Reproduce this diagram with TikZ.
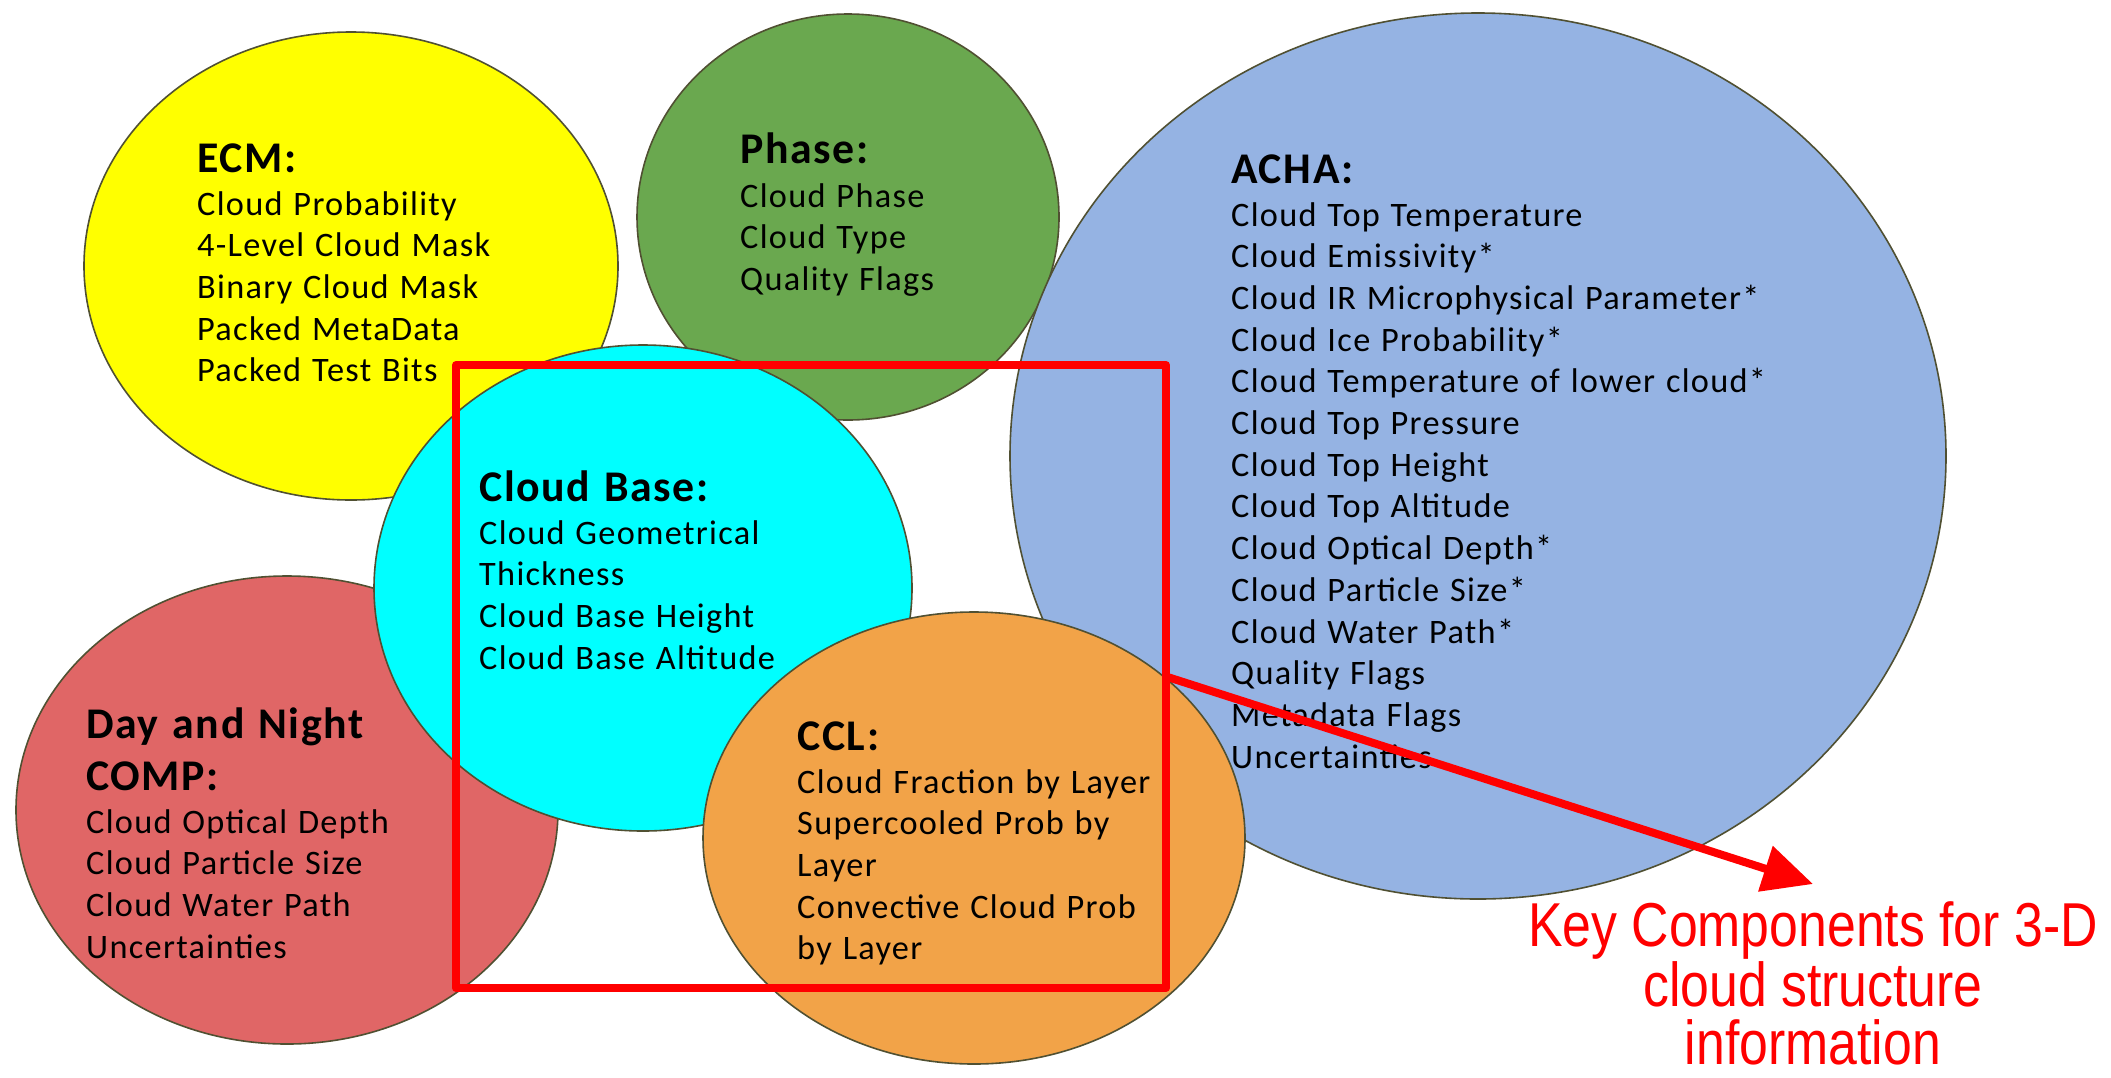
\documentclass[tikz,border=0pt]{standalone}
\usepackage{fontspec}
\setmainfont{Carlito}[LetterSpace=3.8,WordSpace=1.2]
\newfontfamily\keyfont{Liberation Sans}[FakeStretch=0.835]
\usetikzlibrary{arrows.meta,shapes.geometric}
\definecolor{edgecol}{RGB}{80,80,50}
\definecolor{ecmcol}{RGB}{255,255,0}
\definecolor{phasecol}{RGB}{106,168,79}
\definecolor{achacol}{RGB}{149,179,227}
\definecolor{basecol}{RGB}{0,255,255}
\definecolor{dncol}{RGB}{224,102,102}
\definecolor{cclcol}{RGB}{242,163,72}
\definecolor{keyred}{RGB}{255,0,0}
\begin{document}
\begin{tikzpicture}[x=1pt,y=-1pt,
  bub/.style={ellipse, draw=edgecol, line width=1.6pt, inner sep=0pt},
  head/.style={anchor=base west, inner sep=0pt, font=\fontsize{43.8}{52}\selectfont\bfseries},
  body/.style={anchor=base west, inner sep=0pt, font=\fontsize{34.3}{42}\selectfont},
  keytext/.style={anchor=base, inner sep=0pt, text=keyred, font=\fontsize{62}{61}\selectfont\keyfont},
  frame/.style={draw=keyred, line width=8pt, inner sep=0pt, outer sep=0pt, line join=round}
]
\useasboundingbox (0,0) rectangle (2111,1077);
\fill[white] (0,0) rectangle (2111,1077);

% ECM
\node[bub, fill=ecmcol, minimum width=534, minimum height=468] (ecm) at (351,266) {};
\node[head] (ecmh) at (197,172) {ECM:};
\foreach \t [count=\i from 0] in {Cloud Probability, 4-Level Cloud Mask, Binary Cloud Mask, Packed MetaData, Packed Test Bits}
  \node[body] (ecm\i) at (197,215+41.7*\i) {\t};

% Phase
\node[bub, fill=phasecol, minimum width=422, minimum height=406] (phase) at (848,217) {};
\node[head] (phaseh) at (740,163) {Phase:};
\foreach \t [count=\i from 0] in {Cloud Phase, Cloud Type, Quality Flags}
  \node[body] (phase\i) at (740,207+41.7*\i) {\t};

% ACHA
\node[bub, fill=achacol, minimum width=936, minimum height=886] (acha) at (1478,456) {};
\node[head] (achah) at (1231,183) {ACHA:};
\foreach \t [count=\i from 0] in {Cloud Top Temperature, Cloud Emissivity*, Cloud IR Microphysical Parameter*, Cloud Ice Probability*, Cloud Temperature of lower cloud*, Cloud Top Pressure, Cloud Top Height, Cloud Top Altitude, Cloud Optical Depth*, Cloud Particle Size*, Cloud Water Path*, Quality Flags, Metadata Flags, Uncertainties}
  \node[body] (acha\i) at (1231,226+41.7*\i) {\t};

% Day and Night COMP
\node[bub, fill=dncol, minimum width=542, minimum height=468] (dn) at (287,810) {};
\node[head] (dnh1) at (86,738) {Day and Night};
\node[head] (dnh2) at (86,790) {COMP:};
\foreach \t [count=\i from 0] in {Cloud Optical Depth, Cloud Particle Size, Cloud Water Path, Uncertainties}
  \node[body] (dn\i) at (86,833+41.7*\i) {\t};

% Cloud Base
\node[bub, fill=basecol, minimum width=538, minimum height=486] (base) at (643,588) {};
\node[head] (baseh) at (479,501) {Cloud Base:};
\foreach \t [count=\i from 0] in {Cloud Geometrical, Thickness, Cloud Base Height, Cloud Base Altitude}
  \node[body] (base\i) at (479,544+41.7*\i) {\t};

% CCL
\node[bub, fill=cclcol, minimum width=542, minimum height=452] (ccl) at (974,838) {};
\node[head] (cclh) at (797,750) {CCL:};
\foreach \t [count=\i from 0] in {Cloud Fraction by Layer, Supercooled Prob by, Layer, Convective Cloud Prob, by Layer}
  \node[body] (ccl\i) at (797,793+41.7*\i) {\t};

% Red frame and arrow
\node[frame, minimum width=710, minimum height=623] (box) at (811,676.5) {};
\coordinate (tip) at (1813,884);
\draw[keyred, line width=8pt, -{Triangle[length=50pt,width=46pt]}] (box.east) -- (tip);

% Key text
\node[keytext] (key1) at (1813,946) {Key Components for 3-D};
\node[keytext] (key2) at (1813,1006) {cloud structure};
\node[keytext] (key3) at (1813,1064) {information};
\end{tikzpicture}
\end{document}
